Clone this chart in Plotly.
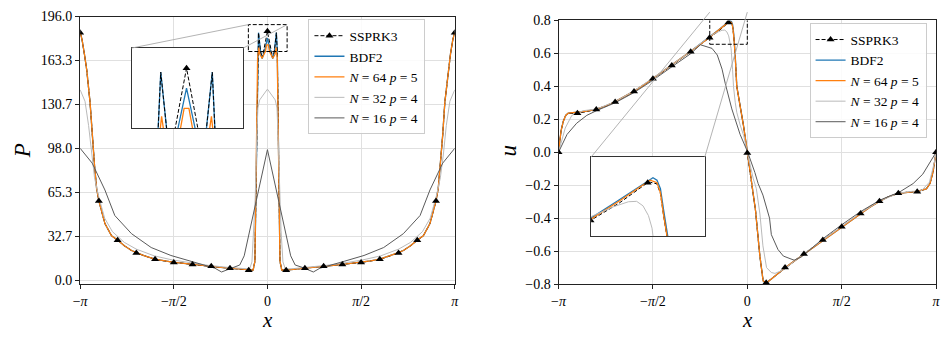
import numpy as np
import plotly.graph_objects as go

W, H = 948, 337
FONT = "Liberation Serif, Times New Roman, serif"
BLUE = "#1f77b4"
ORANGE = "#ff7f0e"
LIGHT = "#bababa"
DARK = "#5a5a5a"
SPINE = "#222222"
GRID = "#e0e0e0"

# ---------------------------------------------------------------- pressure P(x)
p_x_ssprk3 = [-3.1416, -3.11, -3.07, -3.03, -2.975, -2.94, -2.90, -2.865, -2.8274, -2.726, -2.615, -2.5133,
              -2.40, -2.28, -2.1991, -2.06, -1.885, -1.73, -1.5708, -1.40, -1.2566, -1.07, -0.9425, -0.74,
              -0.6283, -0.40, -0.3142, -0.24, -0.21, -0.195, -0.18, -0.165, -0.15, -0.116, -0.09, -0.066,
              0.0,
              0.066, 0.09, 0.116, 0.15, 0.165, 0.18, 0.195, 0.21, 0.24, 0.3142, 0.40, 0.6283, 0.74, 0.9425,
              1.07, 1.2566, 1.40, 1.5708, 1.73, 1.885, 2.06, 2.1991, 2.28, 2.40, 2.5133, 2.615, 2.726, 2.8274,
              2.865, 2.90, 2.94, 2.975, 3.03, 3.07, 3.11, 3.1416]
p_ssprk3 = [184, 179, 168, 156, 132, 108, 85, 68, 58.8, 42, 33, 29.6,
            25.5, 22, 20.2, 18, 15.4, 14.2, 13.1, 12.4, 11.5, 10.8, 10.2, 9.2,
            8.8, 7.8, 7.3, 7.4, 14, 55, 125, 170, 184, 170, 165, 170,
            185,
            170, 165, 170, 184, 170, 125, 55, 14, 7.4, 7.3, 7.8, 8.8, 9.2, 10.2,
            10.8, 11.5, 12.4, 13.1, 14.2, 15.4, 18, 20.2, 22, 25.5, 29.6, 33, 42, 58.8,
            68, 85, 108, 132, 156, 168, 179, 184]

p_x_bdf2 = [-3.1416, -3.11, -3.07, -3.03, -2.975, -2.94, -2.90, -2.865, -2.8274, -2.726, -2.615, -2.5133,
            -2.40, -2.28, -2.1991, -2.06, -1.885, -1.73, -1.5708, -1.40, -1.2566, -1.07, -0.9425, -0.74,
            -0.6283, -0.40, -0.3142, -0.24, -0.21, -0.195, -0.18, -0.165, -0.15, -0.116, -0.087, -0.05,
            0.0,
            0.05, 0.087, 0.116, 0.15, 0.165, 0.18, 0.195, 0.21, 0.24, 0.3142, 0.40, 0.6283, 0.74, 0.9425,
            1.07, 1.2566, 1.40, 1.5708, 1.73, 1.885, 2.06, 2.1991, 2.28, 2.40, 2.5133, 2.615, 2.726, 2.8274,
            2.865, 2.90, 2.94, 2.975, 3.03, 3.07, 3.11, 3.1416]
p_bdf2 = [184, 179, 168, 156, 132, 108, 85, 68, 59, 42, 33, 29.8,
          25.5, 22, 20.4, 18, 15.6, 14.3, 13.2, 12.4, 11.6, 10.8, 10.2, 9.2,
          8.8, 7.8, 7.5, 7.4, 14, 55, 125, 170, 184, 170, 165, 170,
          180,
          170, 165, 170, 184, 170, 125, 55, 14, 7.4, 7.5, 7.8, 8.8, 9.2, 10.2,
          10.8, 11.6, 12.4, 13.2, 14.3, 15.6, 18, 20.4, 22, 25.5, 29.8, 33, 42, 59,
          68, 85, 108, 132, 156, 168, 179, 184]

p_x_n64 = [-3.1416, -3.11, -3.07, -3.03, -2.975, -2.94, -2.90, -2.865, -2.8274, -2.726, -2.615, -2.5133,
           -2.40, -2.28, -2.1991, -2.06, -1.885, -1.73, -1.5708, -1.40, -1.2566, -1.07, -0.9425, -0.74,
           -0.6283, -0.40, -0.3142, -0.24, -0.21, -0.195, -0.18, -0.165, -0.145, -0.128, -0.09, -0.035,
           -0.014, 0.014,
           0.035, 0.09, 0.128, 0.145, 0.165, 0.18, 0.195, 0.21, 0.24, 0.3142, 0.40, 0.6283, 0.74, 0.9425,
           1.07, 1.2566, 1.40, 1.5708, 1.73, 1.885, 2.06, 2.1991, 2.28, 2.40, 2.5133, 2.615, 2.726, 2.8274,
           2.865, 2.90, 2.94, 2.975, 3.03, 3.07, 3.11, 3.1416]
p_n64 = [184, 179, 168, 156, 132, 108, 85, 68, 59, 42, 33, 29.8,
         25.5, 22, 20.4, 18, 15.6, 14.3, 13.2, 12.4, 11.6, 10.8, 10.2, 9.2,
         8.8, 7.8, 7.5, 7.4, 14, 55, 125, 165, 173, 168, 165, 170,
         175, 175,
         170, 165, 168, 173, 165, 125, 55, 14, 7.4, 7.5, 7.8, 8.8, 9.2, 10.2,
         10.8, 11.6, 12.4, 13.2, 14.3, 15.6, 18, 20.4, 22, 25.5, 29.8, 33, 42, 59,
         68, 85, 108, 132, 156, 168, 179, 184]

p_x_n32 = [-3.1416, -3.06, -3.0, -2.95, -2.90, -2.83, -2.73, -2.6, -2.4, -2.2, -1.9, -1.6, -1.3, -1.0,
           -0.7, -0.45, -0.3, -0.26, -0.228, -0.205, -0.18, -0.16, -0.13,
           0.0,
           0.13, 0.16, 0.18, 0.205, 0.228, 0.26, 0.3, 0.45, 0.7, 1.0, 1.3, 1.6, 1.9, 2.2, 2.4, 2.6,
           2.73, 2.83, 2.90, 2.95, 3.0, 3.06, 3.1416]
p_n32 = [141.5, 133, 115, 93, 76, 62, 46, 36, 28, 23, 18, 15, 12.8, 11,
         9.6, 8.6, 8.2, 13.5, 37, 61, 105, 128, 134,
         142,
         134, 128, 105, 61, 37, 13.5, 8.2, 8.6, 9.6, 11, 12.8, 15, 18, 23, 28, 36,
         46, 62, 76, 93, 115, 133, 141.5]

p_x_n16 = [-3.1416, -2.94, -2.726, -2.56, -2.28, -1.95, -1.62, -1.29, -1.05, -0.88, -0.77, -0.6, -0.465,
           -0.39, 0.0, 0.39, 0.465, 0.6, 0.77, 0.88, 1.05, 1.29, 1.62, 1.95, 2.28, 2.56, 2.726, 2.94, 3.1416]
p_n16 = [98, 87, 67, 48, 34.5, 24.2, 18.3, 14, 11.2, 8.8, 6, 9.2, 11.2,
         18, 97, 18, 11.2, 9.2, 6, 8.8, 11.2, 14, 18.3, 24.2, 34.5, 48, 67, 87, 98]

# ---------------------------------------------------------------- velocity u(x)
u_x_n64 = [-3.1416, -3.10, -3.06, -3.02, -2.98, -2.8274, -2.67, -2.5133, -2.35, -2.1991, -2.04, -1.885,
           -1.73, -1.5708, -1.41, -1.2566, -1.1, -0.9425, -0.785, -0.6283, -0.47, -0.3142, -0.30, -0.263,
           -0.244, -0.226, -0.211, -0.203, -0.175, -0.137, -0.066, 0.0, 0.071, 0.137, 0.208, 0.263,
           0.3142, 0.47, 0.6283, 0.785, 0.9425, 1.1, 1.2566, 1.41, 1.5708, 1.73, 1.885, 2.04, 2.1991,
           2.35, 2.5133, 2.67, 2.8274, 2.98, 3.04, 3.09, 3.1416]
u_n64 = [0, 0.13, 0.19, 0.225, 0.237, 0.242, 0.25, 0.262, 0.282, 0.307, 0.337, 0.371,
         0.407, 0.448, 0.488, 0.529, 0.571, 0.612, 0.654, 0.697, 0.742, 0.789, 0.793, 0.787,
         0.762, 0.706, 0.652, 0.591, 0.398, 0.321, 0.166, 0.005, -0.20, -0.355, -0.626, -0.78,
         -0.795, -0.748, -0.701, -0.659, -0.618, -0.576, -0.535, -0.493, -0.452, -0.411, -0.37, -0.333, -0.298,
         -0.27, -0.25, -0.242, -0.238, -0.222, -0.19, -0.12, 0]

u_x_bdf2 = [-3.1416, -3.10, -3.06, -3.02, -2.98, -2.8274, -2.67, -2.5133, -2.35, -2.1991, -2.04, -1.885,
            -1.73, -1.5708, -1.41, -1.2566, -1.1, -0.9425, -0.785, -0.6283, -0.47, -0.3142, -0.30, -0.285,
            -0.263, -0.244, -0.226, -0.211, -0.203, -0.175, -0.137, -0.066, 0.0, 0.071, 0.137, 0.208, 0.263,
            0.3142, 0.47, 0.6283, 0.785, 0.9425, 1.1, 1.2566, 1.41, 1.5708, 1.73, 1.885, 2.04, 2.1991,
            2.35, 2.5133, 2.67, 2.8274, 2.98, 3.04, 3.09, 3.1416]
u_bdf2 = [0, 0.13, 0.19, 0.225, 0.237, 0.242, 0.25, 0.262, 0.282, 0.307, 0.337, 0.371,
          0.407, 0.448, 0.488, 0.529, 0.571, 0.613, 0.656, 0.699, 0.745, 0.792, 0.796, 0.799,
          0.793, 0.772, 0.718, 0.662, 0.60, 0.40, 0.322, 0.167, 0.005, -0.20, -0.355, -0.626, -0.78,
          -0.795, -0.748, -0.701, -0.659, -0.618, -0.576, -0.535, -0.493, -0.452, -0.411, -0.37, -0.333, -0.298,
          -0.27, -0.25, -0.242, -0.238, -0.222, -0.19, -0.12, 0]

u_x_ssprk3 = [-3.1416, -3.10, -3.06, -3.02, -2.98, -2.8274, -2.67, -2.5133, -2.35, -2.1991, -2.04, -1.885,
              -1.73, -1.5708, -1.41, -1.2566, -1.1, -0.9425, -0.785, -0.6283, -0.47, -0.3142, -0.30, -0.263,
              -0.244, -0.226, -0.211, -0.203, -0.175, -0.137, -0.066, 0.0, 0.071, 0.137, 0.208, 0.263,
              0.3142, 0.47, 0.6283, 0.785, 0.9425, 1.1, 1.2566, 1.41, 1.5708, 1.73, 1.885, 2.04, 2.1991,
              2.35, 2.5133, 2.67, 2.8274, 2.98, 3.04, 3.09, 3.1416]
u_ssprk3 = [0, 0.13, 0.19, 0.225, 0.236, 0.236, 0.247, 0.259, 0.28, 0.305, 0.336, 0.369,
            0.405, 0.446, 0.486, 0.527, 0.568, 0.61, 0.651, 0.694, 0.737, 0.787, 0.788, 0.784,
            0.76, 0.704, 0.65, 0.59, 0.398, 0.321, 0.166, -0.005, -0.20, -0.355, -0.626, -0.78,
            -0.792, -0.748, -0.70, -0.659, -0.617, -0.576, -0.533, -0.493, -0.452, -0.411, -0.371, -0.333, -0.297,
            -0.27, -0.249, -0.242, -0.24, -0.222, -0.19, -0.12, 0]

u_x_n32 = [-3.1416, -3.03, -2.92, -2.73, -2.51, -2.2, -1.885, -1.571, -1.257, -0.942, -0.628, -0.5, -0.42,
           -0.375, -0.34, -0.31, -0.29, -0.27, -0.245, -0.23, -0.2, -0.176, -0.12, -0.06, 0.016, 0.1, 0.15,
           0.21, 0.26, 0.32, 0.4, 0.46, 0.56, 0.7, 0.942, 1.257, 1.571, 1.885, 2.199, 2.513, 2.75, 2.89,
           3.03, 3.11, 3.1416]
u_n32 = [0, 0.147, 0.224, 0.252, 0.262, 0.307, 0.372, 0.449, 0.53, 0.613, 0.703, 0.728, 0.74,
         0.741, 0.73, 0.706, 0.675, 0.63, 0.50, 0.40, 0.30, 0.243, 0.166, 0.1, -0.027, -0.162, -0.22,
         -0.375, -0.568, -0.70, -0.73, -0.735, -0.72, -0.685, -0.615, -0.532, -0.45, -0.368, -0.296, -0.248,
         -0.237, -0.236, -0.182, -0.066, 0]

u_x_n16 = [-3.1416, -3.0, -2.84, -2.67, -2.51, -2.2, -1.885, -1.571, -1.257, -0.942, -0.78, -0.587, -0.5,
           -0.42, -0.367, -0.258, -0.12, 0.005, 0.126, 0.18, 0.26, 0.37, 0.40, 0.51, 0.6, 0.78, 0.9, 1.0,
           1.257, 1.571, 1.885, 2.21, 2.54, 2.76, 2.92, 3.1416]
u_n16 = [0, 0.108, 0.176, 0.224, 0.252, 0.30, 0.362, 0.437, 0.518, 0.598, 0.652, 0.63, 0.59,
         0.504, 0.417, 0.263, 0.108, 0.002, -0.123, -0.19, -0.26, -0.40, -0.50, -0.59, -0.63, -0.655, -0.635,
         -0.605, -0.525, -0.44, -0.36, -0.29, -0.24, -0.19, -0.133, 0]

# tick labels
x_tickvals = [-np.pi, -np.pi / 2, 0, np.pi / 2, np.pi]
x_ticktext = ["\u2212<i>\u03c0</i>", "\u2212<i>\u03c0</i>/2", "0", "<i>\u03c0</i>/2", "<i>\u03c0</i>"]
p_tickvals = [0, 32.667, 65.333, 98, 130.667, 163.333, 196]
p_ticktext = ["0.0", "32.7", "65.3", "98.0", "130.7", "163.3", "196.0"]
u_tickvals = [-0.8, -0.6, -0.4, -0.2, 0.0, 0.2, 0.4, 0.6, 0.8]
u_ticktext = ["\u22120.8", "\u22120.6", "\u22120.4", "\u22120.2", "0.0", "0.2", "0.4", "0.6", "0.8"]

series_names = ["SSPRK3", "BDF2", "<i>N</i> = 64 <i>p</i> = 5", "<i>N</i> = 32 <i>p</i> = 4",
                "<i>N</i> = 16 <i>p</i> = 4"]

for xs, ys in [(p_x_ssprk3, p_ssprk3), (p_x_bdf2, p_bdf2), (p_x_n64, p_n64), (p_x_n32, p_n32),
               (p_x_n16, p_n16), (u_x_ssprk3, u_ssprk3), (u_x_bdf2, u_bdf2), (u_x_n64, u_n64),
               (u_x_n32, u_n32), (u_x_n16, u_n16)]:
    assert len(xs) == len(ys)

# ---------------------------------------------------------------- layout boxes (pixels)
P_BOX = (74, 453, 10, 290)      # left, right, top, bottom
U_BOX = (558, 940, 14, 290)
P_INSET = (126, 239, 43, 127)
U_INSET = (591, 706, 157, 240)

P_RANGE = ([-np.pi, np.pi], [-3.0, 196.0])
U_RANGE = ([-np.pi, np.pi], [-0.8, 0.8])
P_ZOOM = ([-0.32, 0.33], [170.0, 190.0])
U_ZOOM = ([-0.625, 0.0], [0.655, 0.85])


def dom(box):
    l, r, t, b = box
    return [l / W, r / W], [1 - b / H, 1 - t / H]


def to_paper(box, rng, x, y):
    (xd, yd) = dom(box)
    (xr, yr) = rng
    px = xd[0] + (x - xr[0]) / (xr[1] - xr[0]) * (xd[1] - xd[0])
    py = yd[0] + (y - yr[0]) / (yr[1] - yr[0]) * (yd[1] - yd[0])
    return px, py


def markers_every_tenth_pi(xs, ys):
    xa = np.asarray(xs)
    mx, my = [], []
    for k in range(-10, 11):
        t = k * np.pi / 10
        i = int(np.argmin(np.abs(xa - t)))
        if abs(xa[i] - t) < 0.01:
            mx.append(xs[i])
            my.append(ys[i])
    return mx, my


fig = go.Figure()

styles = [
    dict(color="black", width=1.0, dash="4px,2px"),
    dict(color=BLUE, width=1.3),
    dict(color=ORANGE, width=1.3),
    dict(color=LIGHT, width=1.0),
    dict(color=DARK, width=1.0),
]


def add_panel(data, axes_list, legend_id):
    # draw order: BDF2, SSPRK3, N64, N32, N16, then the SSPRK3 markers
    order = [1, 0, 2, 3, 4]
    for xa, ya in axes_list:
        for i in order:
            xs, ys = data[i]
            fig.add_trace(go.Scatter(x=xs, y=ys, mode="lines", line=styles[i], xaxis=xa, yaxis=ya,
                                     showlegend=False, hoverinfo="skip"))
        mx, my = markers_every_tenth_pi(*data[0])
        fig.add_trace(go.Scatter(x=mx, y=my, mode="markers", xaxis=xa, yaxis=ya, showlegend=False,
                                 marker=dict(symbol="triangle-up", size=7, color="black"),
                                 hoverinfo="skip"))
    xa, ya = axes_list[0]
    for i, name in enumerate(series_names):
        kw = dict(mode="lines", line=styles[i])
        if i == 0:
            kw = dict(mode="lines+markers", line=styles[i],
                      marker=dict(symbol="triangle-up", size=7, color="black"))
        fig.add_trace(go.Scatter(x=[None], y=[None], name=name, xaxis=xa, yaxis=ya, legend=legend_id,
                                 legendrank=i + 1, showlegend=True, **kw))


add_panel([(p_x_ssprk3, p_ssprk3), (p_x_bdf2, p_bdf2), (p_x_n64, p_n64), (p_x_n32, p_n32),
           (p_x_n16, p_n16)], [("x", "y"), ("x3", "y3")], "legend")
add_panel([(u_x_ssprk3, u_ssprk3), (u_x_bdf2, u_bdf2), (u_x_n64, u_n64), (u_x_n32, u_n32),
           (u_x_n16, u_n16)], [("x2", "y2"), ("x4", "y4")], "legend2")

tickfont = dict(family=FONT, size=14, color="black")


def main_axes(box, rng, yvals, ytext, xanchor, yanchor):
    xd, yd = dom(box)
    xaxis = dict(domain=xd, range=rng[0], anchor=yanchor, tickvals=x_tickvals, ticktext=x_ticktext,
                 ticks="outside", ticklen=4, tickwidth=1, tickcolor=SPINE, showline=True, linecolor=SPINE,
                 linewidth=1, mirror=True, showgrid=True, gridcolor=GRID, gridwidth=1, zeroline=False,
                 tickfont=tickfont)
    yaxis = dict(domain=yd, range=rng[1], anchor=xanchor, tickvals=yvals, ticktext=ytext,
                 ticks="outside", ticklen=4, tickwidth=1, tickcolor=SPINE, showline=True, linecolor=SPINE,
                 linewidth=1, mirror=True, showgrid=True, gridcolor=GRID, gridwidth=1, zeroline=False,
                 tickfont=tickfont)
    return xaxis, yaxis


def inset_axes(box, rng, xanchor, yanchor):
    xd, yd = dom(box)
    common = dict(showticklabels=False, ticks="", showgrid=False, zeroline=False, showline=True,
                  linecolor="#333333", linewidth=1.2, mirror=True)
    return (dict(domain=xd, range=rng[0], anchor=yanchor, **common),
            dict(domain=yd, range=rng[1], anchor=xanchor, **common))


xa1, ya1 = main_axes(P_BOX, P_RANGE, p_tickvals, p_ticktext, "x", "y")
xa2, ya2 = main_axes(U_BOX, U_RANGE, u_tickvals, u_ticktext, "x2", "y2")
xa3, ya3 = inset_axes(P_INSET, P_ZOOM, "x3", "y3")
xa4, ya4 = inset_axes(U_INSET, U_ZOOM, "x4", "y4")

shapes = []
# zoom windows on the main panels
for xr, yr, ref in [(P_ZOOM[0], P_ZOOM[1], ("x", "y")), (U_ZOOM[0], U_ZOOM[1], ("x2", "y2"))]:
    shapes.append(dict(type="rect", xref=ref[0], yref=ref[1], x0=xr[0], x1=xr[1], y0=yr[0], y1=yr[1],
                       line=dict(color="black", width=1, dash="4px,2px"), layer="above"))
# connectors from inset corners to zoom window corners
for box, inset, rng, zoom in [(P_BOX, P_INSET, P_RANGE, P_ZOOM), (U_BOX, U_INSET, U_RANGE, U_ZOOM)]:
    ixd, iyd = dom(inset)
    for cx, ix in [(zoom[0][0], ixd[0]), (zoom[0][1], ixd[1])]:
        px, py = to_paper(box, rng, cx, zoom[1][1])
        shapes.append(dict(type="line", xref="paper", yref="paper", x0=ix, y0=iyd[1], x1=px, y1=py,
                           line=dict(color="#aaaaaa", width=0.9), layer="above"))

title_font = dict(family=FONT, size=23, color="black")
xtitle_font = dict(family=FONT, size=21, color="black")
annotations = [
    dict(text="<i>P</i>", x=16 / W, y=1 - 150 / H, xref="paper", yref="paper", showarrow=False,
         textangle=-90, font=title_font, xanchor="center", yanchor="middle"),
    dict(text="<i>u</i>", x=507 / W, y=1 - 150 / H, xref="paper", yref="paper", showarrow=False,
         textangle=-90, font=title_font, xanchor="center", yanchor="middle"),
    dict(text="<i>x</i>", x=263.5 / W, y=1 - 328 / H, xref="paper", yref="paper", showarrow=False,
         font=xtitle_font, xanchor="center", yanchor="middle"),
    dict(text="<i>x</i>", x=749 / W, y=1 - 328 / H, xref="paper", yref="paper", showarrow=False,
         font=xtitle_font, xanchor="center", yanchor="middle"),
]

legend_style = dict(font=dict(family=FONT, size=13.5, color="black"), bgcolor="rgba(255,255,255,0.85)",
                    bordercolor="#cccccc", borderwidth=1, xanchor="left", yanchor="top",
                    traceorder="normal")

fig.update_layout(
    width=W, height=H, autosize=False,
    margin=dict(l=0, r=0, t=0, b=0, pad=0),
    paper_bgcolor="white", plot_bgcolor="white",
    font=dict(family=FONT, color="black"),
    xaxis=xa1, yaxis=ya1, xaxis2=xa2, yaxis2=ya2, xaxis3=xa3, yaxis3=ya3, xaxis4=xa4, yaxis4=ya4,
    legend=dict(x=305 / W, y=1 - 13 / H, **legend_style),
    legend2=dict(x=812 / W, y=1 - 17 / H, **legend_style),
    shapes=shapes,
    annotations=annotations,
)

fig.write_html("out.html")
